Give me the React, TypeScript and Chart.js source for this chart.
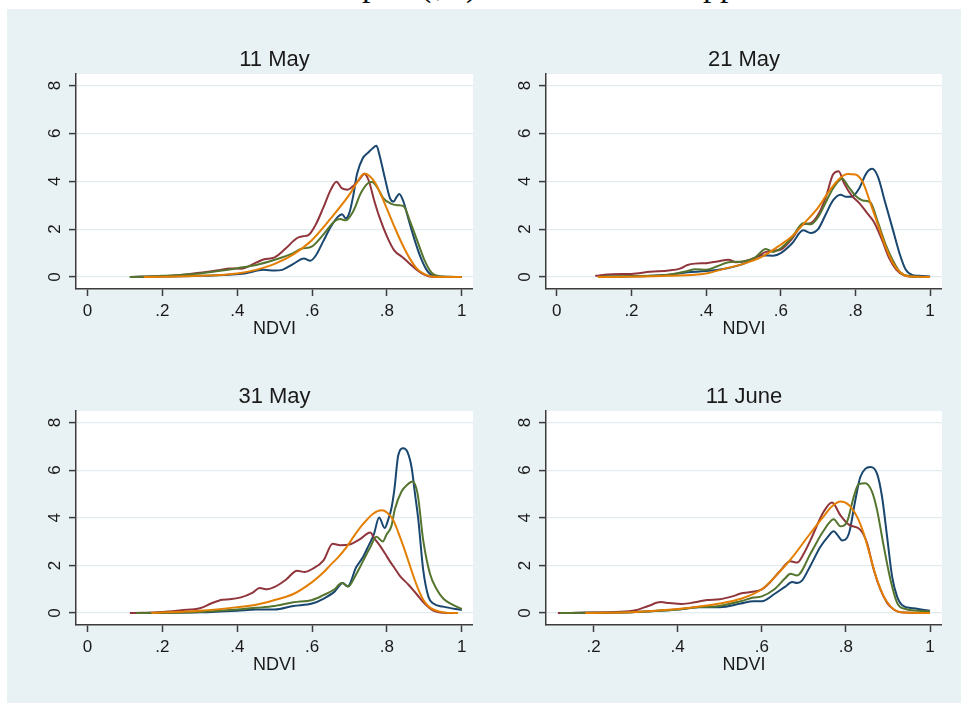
import React, { useEffect, useRef } from 'react';
import { Chart, registerables } from 'chart.js';
Chart.register(...registerables);

type Pt = [number, number];

// ---------- data ----------
const panelTitles = ['11 May', '21 May', '31 May', '11 June'];
const xAxisTitle = 'NDVI';
const yTicks = [0, 2, 4, 6, 8];
const xTicksFull = [0, 0.2, 0.4, 0.6, 0.8, 1];
const xTickLabelsFull = ['0', '.2', '.4', '.6', '.8', '1'];
const xTicksJune = [0.2, 0.4, 0.6, 0.8, 1];
const xTickLabelsJune = ['.2', '.4', '.6', '.8', '1'];

const may11Blue: Pt[] = [[0.113,0],[0.2,0.02],[0.3,0.05],[0.38,0.1],[0.42,0.15],[0.47,0.3],[0.5,0.27],[0.52,0.3],[0.55,0.55],[0.578,0.77],[0.595,0.68],[0.61,0.9],[0.63,1.5],[0.65,2.1],[0.668,2.5],[0.68,2.62],[0.69,2.45],[0.7,2.7],[0.71,3.4],[0.72,4.3],[0.735,4.95],[0.75,5.2],[0.762,5.38],[0.772,5.48],[0.78,5.1],[0.795,4.1],[0.808,3.3],[0.818,3.15],[0.826,3.35],[0.833,3.47],[0.843,3.2],[0.857,2.45],[0.871,1.7],[0.889,0.86],[0.906,0.3],[0.924,0.04],[0.95,0.01],[1.0,0]];
const may11Red: Pt[] = [[0.113,0],[0.2,0.03],[0.25,0.08],[0.3,0.18],[0.35,0.28],[0.38,0.36],[0.41,0.35],[0.45,0.6],[0.47,0.73],[0.5,0.82],[0.53,1.2],[0.56,1.63],[0.575,1.7],[0.59,1.75],[0.61,2.2],[0.63,2.9],[0.65,3.65],[0.665,3.98],[0.68,3.7],[0.695,3.65],[0.71,3.8],[0.725,4.05],[0.74,4.3],[0.752,4.0],[0.765,3.25],[0.78,2.5],[0.8,1.7],[0.82,1.1],[0.84,0.85],[0.86,0.57],[0.88,0.3],[0.9,0.1],[0.92,0.01],[1.0,0]];
const may11Orange: Pt[] = [[0.15,0],[0.2,0.01],[0.3,0.05],[0.4,0.15],[0.45,0.3],[0.5,0.55],[0.55,0.95],[0.6,1.55],[0.65,2.45],[0.7,3.45],[0.72,3.95],[0.74,4.32],[0.755,4.2],[0.77,3.9],[0.785,3.4],[0.8,2.85],[0.82,2.1],[0.84,1.4],[0.86,0.8],[0.88,0.35],[0.9,0.12],[0.92,0.02],[0.95,0],[1.0,0]];
const may11Green: Pt[] = [[0.113,0],[0.2,0.05],[0.3,0.15],[0.35,0.25],[0.4,0.37],[0.45,0.5],[0.5,0.72],[0.55,1.0],[0.57,1.17],[0.6,1.28],[0.63,1.77],[0.66,2.33],[0.675,2.42],[0.69,2.37],[0.71,2.75],[0.73,3.5],[0.75,3.93],[0.76,3.97],[0.775,3.72],[0.79,3.3],[0.81,3.07],[0.83,3.0],[0.845,2.95],[0.86,2.4],[0.88,1.56],[0.9,0.72],[0.92,0.17],[0.94,0.03],[1.0,0]];

const may21Blue: Pt[] = [[0.11,0.02],[0.2,0.03],[0.3,0.1],[0.35,0.2],[0.4,0.25],[0.45,0.35],[0.5,0.55],[0.55,0.9],[0.58,0.89],[0.6,1.0],[0.63,1.4],[0.66,1.95],[0.68,1.84],[0.7,2.0],[0.72,2.6],[0.74,3.2],[0.76,3.44],[0.775,3.35],[0.79,3.35],[0.81,3.7],[0.83,4.35],[0.845,4.52],[0.86,4.2],[0.88,3.1],[0.9,2.0],[0.92,0.9],[0.935,0.3],[0.95,0.1],[0.97,0.05],[1.0,0.02]];
const may21Red: Pt[] = [[0.103,0.05],[0.15,0.12],[0.2,0.13],[0.25,0.22],[0.3,0.27],[0.33,0.35],[0.35,0.5],[0.37,0.56],[0.4,0.58],[0.43,0.65],[0.46,0.72],[0.48,0.62],[0.5,0.65],[0.53,0.8],[0.56,1.05],[0.58,1.1],[0.6,1.15],[0.63,1.6],[0.66,2.2],[0.68,2.25],[0.7,2.6],[0.72,3.3],[0.74,4.28],[0.755,4.42],[0.77,3.9],[0.79,3.4],[0.81,3.1],[0.83,2.7],[0.85,2.29],[0.87,1.6],[0.89,0.8],[0.91,0.3],[0.93,0.07],[0.95,0.02],[1.0,0]];
const may21Orange: Pt[] = [[0.11,0],[0.2,0.01],[0.3,0.05],[0.4,0.15],[0.45,0.35],[0.5,0.55],[0.55,0.85],[0.6,1.35],[0.63,1.7],[0.66,2.2],[0.7,2.9],[0.73,3.6],[0.76,4.15],[0.78,4.3],[0.8,4.28],[0.82,3.95],[0.84,3.1],[0.86,2.2],[0.88,1.3],[0.9,0.6],[0.92,0.2],[0.94,0.03],[1.0,0]];
const may21Green: Pt[] = [[0.12,0.02],[0.2,0.04],[0.3,0.1],[0.35,0.25],[0.37,0.32],[0.4,0.3],[0.43,0.45],[0.46,0.62],[0.5,0.65],[0.53,0.8],[0.56,1.17],[0.58,1.05],[0.6,1.2],[0.63,1.65],[0.66,2.25],[0.68,2.2],[0.7,2.5],[0.72,3.1],[0.74,3.7],[0.765,4.1],[0.78,3.8],[0.8,3.4],[0.82,3.2],[0.84,3.12],[0.86,2.3],[0.88,1.4],[0.9,0.7],[0.92,0.2],[0.94,0.05],[1.0,0]];

const may31Blue: Pt[] = [[0.12,0],[0.3,0.03],[0.4,0.1],[0.45,0.15],[0.5,0.15],[0.55,0.3],[0.6,0.4],[0.63,0.6],[0.66,0.9],[0.682,1.26],[0.695,1.12],[0.718,1.93],[0.736,2.35],[0.75,2.8],[0.765,3.3],[0.779,4.01],[0.794,3.57],[0.803,3.9],[0.812,4.4],[0.82,5.2],[0.83,6.6],[0.844,6.92],[0.855,6.75],[0.866,6.1],[0.875,5.0],[0.884,3.9],[0.897,1.8],[0.911,0.68],[0.924,0.4],[0.95,0.27],[1.0,0.13]];
const may31Red: Pt[] = [[0.113,0],[0.2,0.05],[0.25,0.12],[0.3,0.2],[0.33,0.4],[0.36,0.56],[0.38,0.58],[0.41,0.66],[0.44,0.85],[0.46,1.05],[0.48,1.0],[0.5,1.1],[0.53,1.4],[0.56,1.78],[0.58,1.72],[0.6,1.85],[0.63,2.2],[0.655,2.91],[0.675,2.85],[0.7,2.88],[0.728,3.1],[0.755,3.38],[0.768,3.1],[0.782,2.81],[0.795,2.5],[0.808,2.17],[0.822,1.85],[0.835,1.55],[0.857,1.2],[0.879,0.8],[0.902,0.38],[0.924,0.1],[0.951,0.01],[0.99,0]];
const may31Orange: Pt[] = [[0.17,0],[0.3,0.1],[0.4,0.25],[0.45,0.35],[0.5,0.55],[0.55,0.8],[0.6,1.3],[0.63,1.7],[0.648,2.0],[0.67,2.35],[0.692,2.77],[0.715,3.3],[0.737,3.75],[0.763,4.17],[0.786,4.31],[0.8,4.22],[0.817,3.9],[0.83,3.4],[0.844,2.8],[0.858,2.15],[0.871,1.54],[0.885,0.95],[0.897,0.56],[0.91,0.3],[0.924,0.15],[0.951,0.03],[0.99,0]];
const may31Green: Pt[] = [[0.13,0],[0.3,0.05],[0.4,0.15],[0.45,0.22],[0.5,0.3],[0.55,0.45],[0.6,0.55],[0.63,0.75],[0.66,1.0],[0.679,1.26],[0.697,1.12],[0.715,1.55],[0.735,2.15],[0.755,2.75],[0.772,3.2],[0.789,3.0],[0.799,3.3],[0.812,3.65],[0.821,4.35],[0.839,5.1],[0.855,5.4],[0.868,5.52],[0.882,5.0],[0.897,3.05],[0.915,1.65],[0.933,1.0],[0.951,0.6],[0.975,0.35],[1.0,0.17]];

const jun11Blue: Pt[] = [[0.12,0],[0.3,0.05],[0.4,0.15],[0.45,0.25],[0.5,0.25],[0.55,0.4],[0.58,0.5],[0.6,0.5],[0.63,0.8],[0.655,1.1],[0.672,1.3],[0.684,1.26],[0.695,1.35],[0.716,2.0],[0.739,2.77],[0.757,3.2],[0.771,3.43],[0.781,3.25],[0.791,3.05],[0.807,3.33],[0.823,4.8],[0.834,5.7],[0.846,6.05],[0.858,6.13],[0.874,5.85],[0.886,4.87],[0.898,3.2],[0.91,1.52],[0.922,0.68],[0.934,0.33],[0.961,0.2],[1.0,0.1]];
const jun11Red: Pt[] = [[0.115,0],[0.2,0.02],[0.25,0.05],[0.3,0.12],[0.33,0.3],[0.36,0.46],[0.38,0.42],[0.41,0.38],[0.44,0.45],[0.47,0.55],[0.5,0.58],[0.53,0.7],[0.55,0.82],[0.57,0.87],[0.6,1.0],[0.62,1.3],[0.645,1.8],[0.668,2.17],[0.684,2.12],[0.7,2.5],[0.716,3.07],[0.747,4.25],[0.767,4.64],[0.787,4.1],[0.807,3.71],[0.834,3.5],[0.85,2.95],[0.866,1.83],[0.882,0.99],[0.898,0.43],[0.914,0.15],[0.93,0.04],[1.0,0]];
const jun11Orange: Pt[] = [[0.18,0],[0.3,0.05],[0.4,0.17],[0.5,0.4],[0.55,0.6],[0.6,1.0],[0.63,1.5],[0.668,2.24],[0.716,3.36],[0.747,4.06],[0.767,4.48],[0.787,4.68],[0.807,4.54],[0.826,4.06],[0.842,3.36],[0.858,2.38],[0.874,1.4],[0.89,0.7],[0.906,0.28],[0.922,0.07],[0.942,0.02],[1.0,0]];
const jun11Green: Pt[] = [[0.12,0],[0.3,0.05],[0.4,0.15],[0.45,0.25],[0.5,0.3],[0.55,0.5],[0.58,0.65],[0.6,0.7],[0.63,1.0],[0.655,1.45],[0.668,1.65],[0.684,1.58],[0.716,2.5],[0.745,3.4],[0.771,3.94],[0.787,3.64],[0.803,3.85],[0.819,4.9],[0.83,5.4],[0.846,5.45],[0.862,5.1],[0.874,4.33],[0.89,2.8],[0.906,1.4],[0.922,0.42],[0.942,0.17],[0.97,0.1],[1.0,0.07]];

// ---------- style ----------
const COLORS = { blue: '#1a476f', red: '#90353b', green: '#55752f', orange: '#e37e00' };
const FONT = "'Liberation Sans', Arial, sans-serif";
const TEXT = '#1a1a1a';
const AXIS = '#3c3c3c';
const GRID = '#e2ecef';
const BG = '#e8f1f3';

const Y_W = 44;
const X_H = 51;
const TITLE_H = 35;

type PanelDef = {
  title: string;
  L: number; T: number; R: number; B: number;
  xMin: number; xMax: number;
  xTicks: number[]; xLabels: string[];
  yMin: number; yMax: number;
  blue: Pt[]; red: Pt[]; green: Pt[]; orange: Pt[];
};

const panels: PanelDef[] = [
  { title: panelTitles[0], L: 76, T: 74, R: 473, B: 289, xMin: -0.031, xMax: 1.03, xTicks: xTicksFull, xLabels: xTickLabelsFull, yMin: -0.5, yMax: 8.48, blue: may11Blue, red: may11Red, green: may11Green, orange: may11Orange },
  { title: panelTitles[1], L: 546, T: 74, R: 942, B: 289, xMin: -0.029, xMax: 1.032, xTicks: xTicksFull, xLabels: xTickLabelsFull, yMin: -0.5, yMax: 8.48, blue: may21Blue, red: may21Red, green: may21Green, orange: may21Orange },
  { title: panelTitles[2], L: 76, T: 411, R: 473, B: 625, xMin: -0.031, xMax: 1.03, xTicks: xTicksFull, xLabels: xTickLabelsFull, yMin: -0.5, yMax: 8.48, blue: may31Blue, red: may31Red, green: may31Green, orange: may31Orange },
  { title: panelTitles[3], L: 546, T: 411, R: 942, B: 625, xMin: 0.0868, xMax: 1.0285, xTicks: xTicksJune, xLabels: xTickLabelsJune, yMin: -0.5, yMax: 8.48, blue: jun11Blue, red: jun11Red, green: jun11Green, orange: jun11Orange },
];

const whiteArea = {
  id: 'whiteArea',
  beforeDraw(chart: any) {
    const { ctx, chartArea } = chart;
    if (!chartArea) return;
    ctx.save();
    ctx.fillStyle = '#ffffff';
    ctx.fillRect(chartArea.left, chartArea.top, chartArea.right - chartArea.left, chartArea.bottom - chartArea.top);
    ctx.restore();
  },
};

function Panel({ p }: { p: PanelDef }) {
  const ref = useRef<HTMLCanvasElement>(null);
  const left = p.L - Y_W;
  const top = p.T - TITLE_H;
  const width = p.R - left;
  const height = p.B + X_H - top;

  useEffect(() => {
    if (!ref.current) return;
    const toData = (arr: Pt[]) => arr.map(([x, y]) => ({ x, y }));
    const chart = new Chart(ref.current, {
      type: 'line',
      data: {
        datasets: [
          { data: toData(p.orange), borderColor: COLORS.orange },
          { data: toData(p.green), borderColor: COLORS.green },
          { data: toData(p.red), borderColor: COLORS.red },
          { data: toData(p.blue), borderColor: COLORS.blue },
        ] as any,
      },
      options: {
        animation: false,
        responsive: false,
        devicePixelRatio: 1,
        layout: { padding: 0 },
        elements: {
          point: { radius: 0 },
          line: { borderWidth: 2, cubicInterpolationMode: 'monotone', fill: false },
        },
        plugins: {
          legend: { display: false },
          tooltip: { enabled: false },
          title: {
            display: true,
            text: p.title,
            fullSize: false,
            color: TEXT,
            font: { family: FONT, size: 22, weight: 'normal', lineHeight: '26px' },
            padding: { top: 8, bottom: 1 },
          },
        },
        scales: {
          x: {
            type: 'linear',
            min: p.xMin,
            max: p.xMax,
            afterBuildTicks: (s: any) => { s.ticks = p.xTicks.map((v) => ({ value: v })); },
            afterFit: (s: any) => { s.height = X_H; },
            ticks: {
              autoSkip: false,
              minRotation: 0,
              maxRotation: 0,
              padding: 5,
              color: TEXT,
              font: { family: FONT, size: 17 },
              callback: (_v: any, i: number) => p.xLabels[i],
            },
            grid: { display: true, drawOnChartArea: false, drawTicks: true, tickLength: 7, tickColor: AXIS, tickWidth: 1.5 },
            border: { display: true, color: AXIS, width: 1.5 },
            title: { display: true, text: xAxisTitle, color: TEXT, font: { family: FONT, size: 18 }, padding: { top: 0, bottom: 0 } },
          },
          y: {
            type: 'linear',
            min: p.yMin,
            max: p.yMax,
            afterBuildTicks: (s: any) => { s.ticks = yTicks.map((v) => ({ value: v })); },
            afterFit: (s: any) => { s.width = Y_W; },
            ticks: {
              autoSkip: false,
              minRotation: 90,
              maxRotation: 90,
              crossAlign: 'center',
              padding: 9,
              color: TEXT,
              font: { family: FONT, size: 17 },
              callback: (v: any) => String(v),
            },
            grid: { display: true, drawOnChartArea: true, color: GRID, lineWidth: 1.2, drawTicks: true, tickLength: 7, tickColor: AXIS, tickWidth: 1.5 },
            border: { display: true, color: AXIS, width: 1.5 },
          },
        },
      } as any,
      plugins: [whiteArea],
    });
    return () => chart.destroy();
  }, []);

  return (
    <canvas
      ref={ref}
      width={width}
      height={height}
      style={{ position: 'absolute', left, top, width, height }}
    />
  );
}

const captionBits = [
  { text: 'p', left: 362 },
  { text: '(', left: 420 },
  { text: ',', left: 436 },
  { text: ')', left: 466 },
  { text: 'pp', left: 703 },
];

export default function App() {
  return (
    <div style={{ position: 'absolute', left: 0, top: 0, width: 961, height: 703, background: '#ffffff', overflow: 'hidden' }}>
      <div style={{ position: 'absolute', left: 0, top: 0, width: 961, height: 9, overflow: 'hidden' }}>
        {captionBits.map((b, i) => (
          <span
            key={i}
            style={{ position: 'absolute', left: b.left, top: -35, fontFamily: "'Liberation Serif', 'DejaVu Serif', serif", fontSize: 34, lineHeight: '40px', color: '#111' }}
          >
            {b.text}
          </span>
        ))}
      </div>
      <div style={{ position: 'absolute', left: 7, top: 9, width: 954, height: 694, background: BG }} />
      {panels.map((p, i) => (
        <Panel key={i} p={p} />
      ))}
    </div>
  );
}
